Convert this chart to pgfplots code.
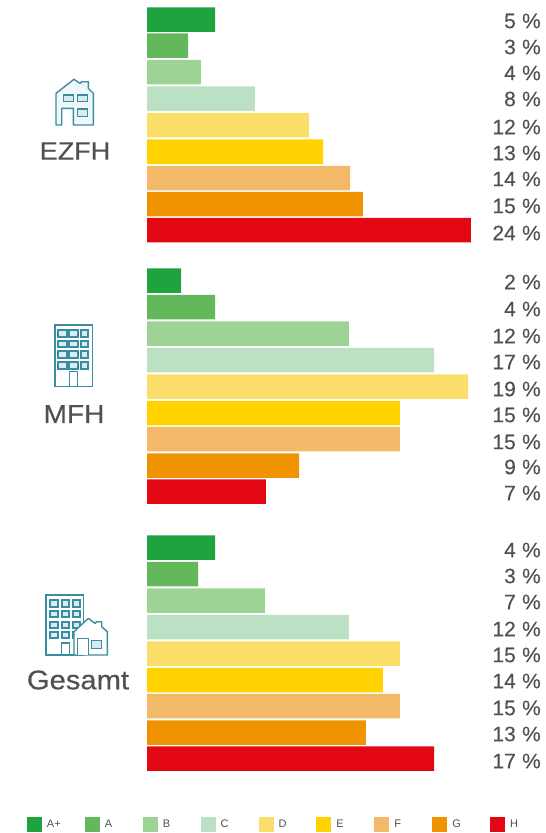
\documentclass[border=0pt]{standalone}
\usepackage{pgfplots}
\pgfplotsset{compat=1.18}
\usepackage{pgfplotstable}
\usepackage{fontspec}
\setmainfont{Liberation Sans}
\newfontfamily\labfont[FakeBold=0.4,FakeStretch=1.08]{Liberation Sans}
\newfontfamily\pctfont[FakeBold=0.2]{Liberation Sans}
\definecolor{cAp}{HTML}{1FA33F}
\definecolor{cA}{HTML}{62B85A}
\definecolor{cB}{HTML}{9DD495}
\definecolor{cC}{HTML}{BBE0C3}
\definecolor{cD}{HTML}{FBDD6A}
\definecolor{cE}{HTML}{FFD200}
\definecolor{cF}{HTML}{F2B968}
\definecolor{cG}{HTML}{EF9300}
\definecolor{cH}{HTML}{E30613}
\definecolor{txt}{HTML}{505050}
\definecolor{icon}{HTML}{3A8DA1}
\definecolor{iconfill}{HTML}{D6ECF1}
\pgfplotstableread{
y len
19.5 5.04
280.5 2.52
547.5 5.04
}\tAp
\pgfplotstableread{
y len
45.5 3.04
307 5.04
574 3.78
}\tA
\pgfplotstableread{
y len
72 4.00
333.5 14.96
600.5 8.74
}\tB
\pgfplotstableread{
y len
98.5 8.00
360 21.26
627 14.96
}\tC
\pgfplotstableread{
y len
125 12.00
386.5 23.78
653.5 18.74
}\tD
\pgfplotstableread{
y len
151.5 13.04
413 18.74
680 17.48
}\tE
\pgfplotstableread{
y len
178 15.04
439 18.74
706 18.74
}\tF
\pgfplotstableread{
y len
204 16.00
465.5 11.26
732.5 16.22
}\tG
\pgfplotstableread{
y len
230 24.00
491.5 8.81
758.5 21.26
}\tH
\pgfplotstableread{
x y lab
541 21 5
541 47 3
541 73 4
541 99 8
541 127 12
541 153 13
541 179 14
541 206 15
541 233 24
541 282 2
541 309 4
541 336 12
541 362 17
541 389 19
541 415 15
541 442 15
541 467 9
541 493 7
541 550 4
541 576 3
541 602 7
541 629 12
541 655 15
541 681 14
541 708 15
541 734 13
541 761 17
}\tLab
\begin{document}
\begin{tikzpicture}
\begin{axis}[
  name=bars, at={(0pt,0pt)}, anchor=south west,
  width=546pt, height=833pt, scale only axis, axis lines=none,
  xmin=-10.889, xmax=29.556, ymin=0, ymax=833, y dir=reverse,
  xbar, bar shift=0pt, bar width=24.5pt, clip=false,
  legend columns=9,
  legend style={draw=none, fill=none, at={(axis cs:-8.89,824.5)}, anchor=west,
    inner sep=0pt, outer sep=0pt, font=\fontsize{11}{12}\selectfont\color{txt},
    /tikz/every even column/.append style={column sep=0pt}},
  legend cell align=left,
  legend image code/.code={\fill[#1] (0pt,-7.5pt) rectangle (15pt,7.5pt);},
  every axis plot/.append style={draw=none},
]
\addplot[fill=cAp] table[x=len,y=y] {\tAp}; \addlegendentry{\hspace*{3pt}\makebox[35.9pt][l]{A+}}
\addplot[fill=cA] table[x=len,y=y] {\tA}; \addlegendentry{\hspace*{3pt}\makebox[35.9pt][l]{A}}
\addplot[fill=cB] table[x=len,y=y] {\tB}; \addlegendentry{\hspace*{3pt}\makebox[35.9pt][l]{B}}
\addplot[fill=cC] table[x=len,y=y] {\tC}; \addlegendentry{\hspace*{3pt}\makebox[35.9pt][l]{C}}
\addplot[fill=cD] table[x=len,y=y] {\tD}; \addlegendentry{\hspace*{3pt}\makebox[35.9pt][l]{D}}
\addplot[fill=cE] table[x=len,y=y] {\tE}; \addlegendentry{\hspace*{3pt}\makebox[35.9pt][l]{E}}
\addplot[fill=cF] table[x=len,y=y] {\tF}; \addlegendentry{\hspace*{3pt}\makebox[35.9pt][l]{F}}
\addplot[fill=cG] table[x=len,y=y] {\tG}; \addlegendentry{\hspace*{3pt}\makebox[35.9pt][l]{G}}
\addplot[fill=cH] table[x=len,y=y] {\tH}; \addlegendentry{\hspace*{3pt}\makebox[8pt][l]{H}}
\path (rel axis cs:0,0) (rel axis cs:1,1);
\end{axis}
\begin{axis}[
  at={(0pt,0pt)}, anchor=south west,
  width=546pt, height=833pt, scale only axis, axis lines=none,
  xmin=0, xmax=546, ymin=0, ymax=833, y dir=reverse, clip=false,
]
\addplot[only marks, mark=none, nodes near coords={\pgfplotspointmeta\hspace{0.3em}\%},
  point meta=explicit symbolic,
  nodes near coords style={anchor=east, inner sep=0pt, text=txt,
    font=\pctfont\fontsize{21}{23}\selectfont}]
  table[x=x,y=y,meta=lab] {\tLab};
\node[text=txt, font=\labfont\fontsize{25}{28}\selectfont] at (axis cs:75,151) {EZFH};
\node[text=txt, font=\labfont\fontsize{26}{28}\selectfont] at (axis cs:74,414) {MFH};
\node[text=txt, font=\labfont\fontsize{27}{28}\selectfont] at (axis cs:78,680) {Gesamt};
% house
\draw[icon, line width=1.4pt, line join=round, fill=iconfill!40]
  (axis cs:56,125)--(axis cs:56,93.3)--(axis cs:74,79.3)--(axis cs:80,83.3)--(axis cs:81.7,81.7)--(axis cs:88.3,81.7)--(axis cs:88.3,88.3)--(axis cs:93.3,93.3)--(axis cs:93.3,125)--(axis cs:73.3,125)--(axis cs:73.3,108.3)--(axis cs:61.7,108.3)--(axis cs:61.7,125)--cycle;
\draw[icon, line width=1.4pt, fill=iconfill] (axis cs:63.3,95) rectangle (axis cs:73.3,101.7);
\draw[icon, line width=1.4pt, fill=iconfill] (axis cs:77.3,95) rectangle (axis cs:87.3,101.7);
\draw[icon, line width=1.4pt, fill=iconfill] (axis cs:77.3,109) rectangle (axis cs:87.3,116.7);
% MFH
\draw[icon, line width=1.4pt, fill=white] (axis cs:55,325) rectangle (axis cs:92.7,386.7);
\foreach \xa/\xb in {58.3/66.7,69.3/77.7,80.7/88.3}{
  \foreach \ya/\yb in {330/336.7,341/347.3,351.3/358.3,362.3/369}{
    \edef\tmp{\noexpand\draw[icon, line width=1.9pt, fill=iconfill] (axis cs:\xa,\ya) rectangle (axis cs:\xb,\yb);}\tmp
  }}
\draw[icon, line width=1.4pt] (axis cs:69.3,386.7)--(axis cs:69.3,371.7)--(axis cs:77.7,371.7)--(axis cs:77.7,386.7);
% Gesamt
\draw[icon, line width=1.4pt, fill=white] (axis cs:46,595) rectangle (axis cs:83.3,655);
\foreach \xa/\xb in {50/58.3,61.7/69.3,72.7/80}{
  \foreach \ya/\yb in {600/606.7,610.7/617.3,621.7/628.3,631.7/638.3}{
    \edef\tmp{\noexpand\draw[icon, line width=1.9pt, fill=iconfill] (axis cs:\xa,\ya) rectangle (axis cs:\xb,\yb);}\tmp
  }}
\draw[icon, line width=1.4pt] (axis cs:61.7,655)--(axis cs:61.7,643)--(axis cs:69.3,643)--(axis cs:69.3,655);
\draw[icon, line width=1.4pt, line join=round, fill=white]
  (axis cs:74,655)--(axis cs:74,631.7)--(axis cs:88.3,618.3)--(axis cs:95,623.3)--(axis cs:96.7,621.7)--(axis cs:101.7,621.7)--(axis cs:101.7,626.7)--(axis cs:107.3,631.7)--(axis cs:107.3,655)--cycle;
\draw[icon, line width=1.4pt, fill=white] (axis cs:77.3,655)--(axis cs:77.3,638.3)--(axis cs:88.3,638.3)--(axis cs:88.3,655);
\draw[icon, line width=1.4pt, fill=iconfill] (axis cs:91.7,640.7) rectangle (axis cs:101.7,648.3);
\path (rel axis cs:0,0) (rel axis cs:1,1);
\end{axis}
\end{tikzpicture}
\end{document}
